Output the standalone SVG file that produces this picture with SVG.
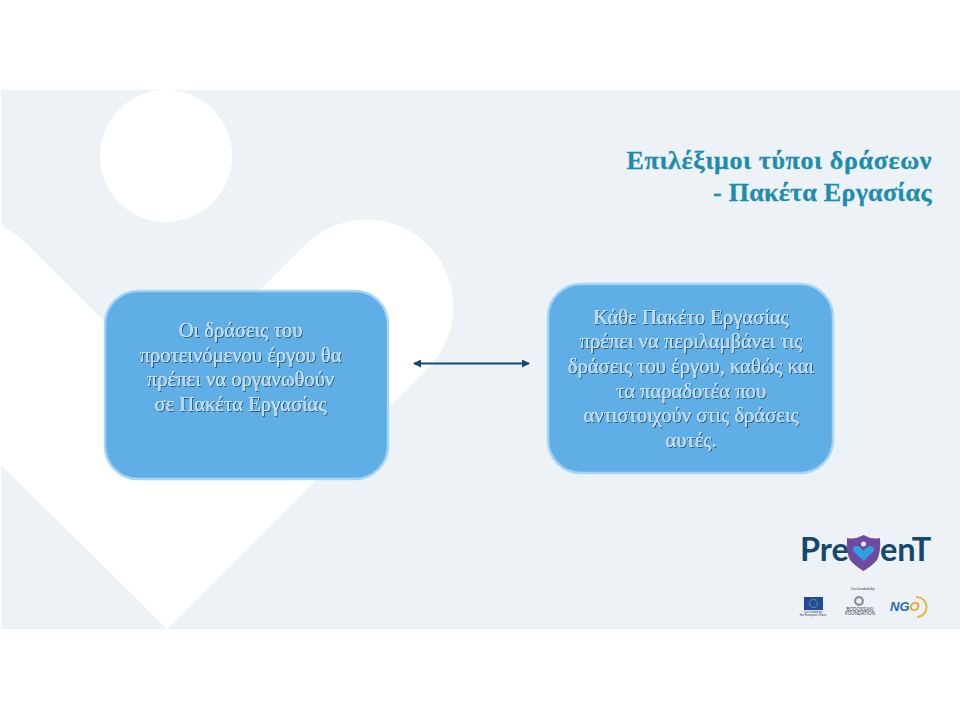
<svg xmlns="http://www.w3.org/2000/svg" width="960" height="720" viewBox="0 0 960 720">
<defs>
<style>
.title{font-family:"Liberation Serif",serif;font-weight:700;font-size:26px;fill:#1d8dae;text-anchor:end;letter-spacing:.62px;stroke:#1d8dae;stroke-width:.3}
.body{font-family:"Liberation Serif",serif;font-size:20.6px;fill:#b4d9f4;text-anchor:middle;filter:url(#emboss)}
.box{fill:#60aee6;stroke:#a6d4f6;stroke-width:2.4}
.tiny{font-family:"Liberation Sans",sans-serif;fill:#333c48;text-anchor:middle}
.logo{font-family:"Lato","Open Sans",sans-serif;font-size:32.5px;font-weight:700;fill:#14486f}
</style>
<filter id="emboss" x="-5%" y="-20%" width="110%" height="140%">
<feOffset in="SourceAlpha" dx="0.7" dy="0.8" result="o"/>
<feFlood flood-color="#2c4357" flood-opacity=".85"/>
<feComposite in2="o" operator="in" result="s"/>
<feOffset in="SourceAlpha" dx="-0.5" dy="-0.5" result="h"/>
<feFlood flood-color="#ffffff"/>
<feComposite in2="h" operator="in" result="w"/>
<feMerge><feMergeNode in="s"/><feMergeNode in="w"/><feMergeNode in="SourceGraphic"/></feMerge>
</filter>
<marker id="head" viewBox="0 0 8 8" refX="7" refY="4" markerWidth="4" markerHeight="4" orient="auto-start-reverse" markerUnits="strokeWidth"><path d="M0 0L8 4L0 8Z" fill="#104a72"/></marker>
</defs>
<rect width="960" height="720" fill="#fff"/>
<rect x="1" y="90" width="959" height="539" fill="#edf2f7"/>
<g id="background" fill="#fff">
<circle cx="166" cy="156" r="66"/>
<path d="M1 225L20 237L100 317L168.500 381.500L306.500 243.500A87 87 0 0 1 429.500 366.500L167 629L1 465Z"/>
</g>
<g id="title">
<text class="title" x="932" y="169">Επιλέξιμοι τύποι δράσεων</text>
<text class="title" x="932" y="201" textLength="219" lengthAdjust="spacing">- Πακέτα Εργασίας</text>
</g>
<g id="node-left">
<rect class="box" x="105" y="291" width="283" height="188" rx="33"/>
<text class="body" x="240.500" y="337">Οι δράσεις του</text>
<text class="body" x="240.500" y="362">προτεινόμενου έργου θα</text>
<text class="body" x="240.500" y="386">πρέπει να οργανωθούν</text>
<text class="body" x="240.500" y="411">σε Πακέτα Εργασίας</text>
</g>
<g id="node-right">
<rect class="box" x="548" y="284" width="285" height="189" rx="33"/>
<text class="body" x="691" y="324">Κάθε Πακέτο Εργασίας</text>
<text class="body" x="691" y="348">πρέπει να περιλαμβάνει τις</text>
<text class="body" x="691" y="373">δράσεις του έργου, καθώς και</text>
<text class="body" x="691" y="398">τα παραδοτέα που</text>
<text class="body" x="691" y="422">αντιστοιχούν στις δράσεις</text>
<text class="body" x="691" y="447">αυτές.</text>
</g>
<g id="connectors">
<line x1="414" y1="363.500" x2="529" y2="363.500" stroke="#104a72" stroke-width="2" marker-start="url(#head)" marker-end="url(#head)"/>
</g>
<g id="logo">
<text class="logo" x="800" y="561">Pre</text>
<path d="M863.500 535Q855 540 847 538Q846 552 850 560Q855 566 863.500 571Q872 566 877 560Q881 552 880 538Q872 540 863.500 535Z" fill="#6f4a9e"/>
<path d="M863.500 561L853 551Q852 547 856 546Q860 546 863.500 551Q867 546 871 546Q875 547 874 551Z" fill="#2e9fe0"/>
<circle cx="863.500" cy="544" r="2.500" fill="#e9e4f3"/>
<text class="logo" x="880" y="561">enT</text>
<text class="tiny" x="863" y="590" font-size="4">Co-funded by:</text>
<rect x="804" y="597" width="19" height="13" fill="#1f4b9c"/>
<circle cx="813.500" cy="603.500" r="4" fill="none" stroke="#e8d85c" stroke-width=".9" stroke-dasharray="1 1"/>
<text class="tiny" x="813" y="613" font-size="3">Co-funded by</text>
<text class="tiny" x="813" y="616" font-size="3">the European Union</text>
<circle cx="859" cy="601" r="5" fill="#8a9098"/>
<circle cx="859" cy="601" r="2.800" fill="#edf2f7"/>
<text class="tiny" x="860" y="610.500" font-size="4.600">BODOSSAKI</text>
<text class="tiny" x="860" y="615" font-size="4.600">FOUNDATION</text>
<text x="890" y="611" font-family="Liberation Sans,sans-serif" font-style="italic" font-weight="700" font-size="13" fill="#2a66b5">NG<tspan fill="#e6a92a">O</tspan></text>
<path d="M916 597A10 10 0 0 1 917 617" fill="none" stroke="#e6b84a" stroke-width="2"/>
</g>
</svg>
